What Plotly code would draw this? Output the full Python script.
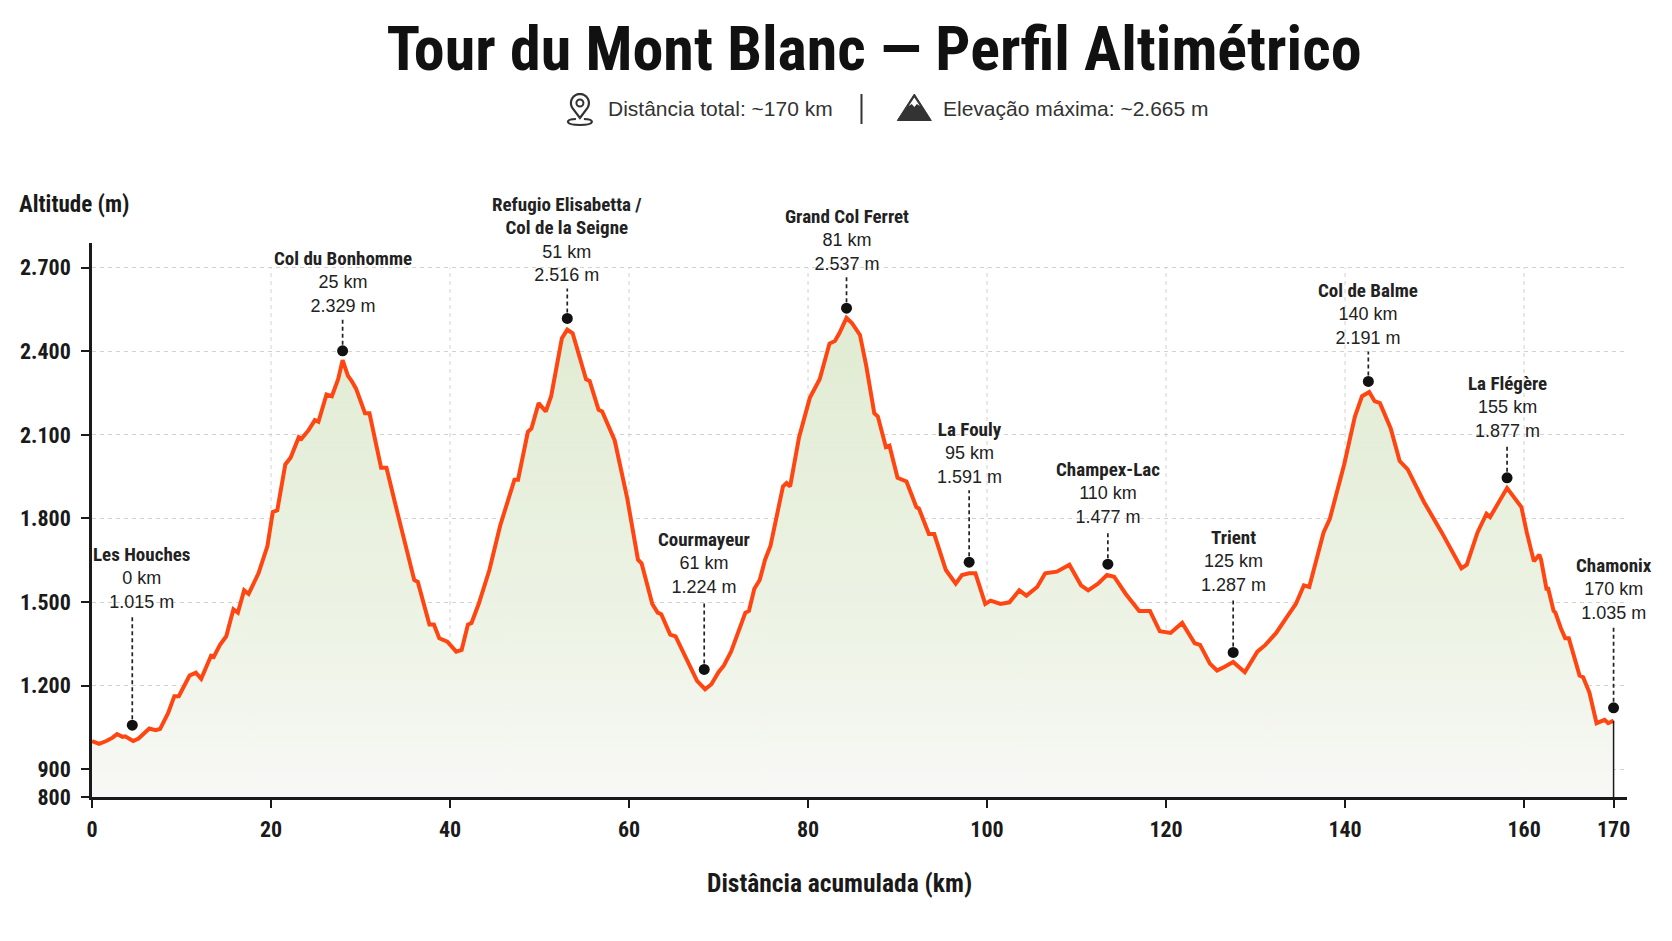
"""
Tour du Mont Blanc - elevation profile.

Elevation line with a soft green gradient fill, labelled stops
(black dots + dashed leader lines) and a header with small icons.
"""

import math

import plotly.graph_objects as go


# Profile (km, m)
DIST_KM = [
    0.0, 0.8, 1.6, 2.3, 2.8, 3.4, 3.7, 4.6, 5.2, 6.4, 7.1, 7.6, 8.5, 9.2, 9.7,
    10.9, 11.6, 12.2, 13.3, 13.6, 14.3, 15.0, 15.8, 16.3, 17.0, 17.5, 18.6, 19.6,
    20.2, 20.7, 21.6, 22.2, 23.1, 23.4, 24.2, 24.9, 25.3, 26.2, 26.8, 27.5, 28.0,
    28.6, 29.0, 29.5, 30.5, 31.0, 32.3, 32.9, 34.2, 36.0, 36.4, 37.7, 38.2, 38.8, 39.7,
    40.7, 41.3, 42.0, 42.4, 43.2, 44.4, 45.6, 47.2, 47.6, 48.7, 49.1, 49.9, 50.7,
    51.3, 52.5, 53.1, 53.7, 55.2, 55.6, 56.6, 57.0, 58.4, 59.8,
    61.0, 61.4, 62.6, 63.2, 63.6, 64.6, 65.2, 66.2, 67.6, 68.5, 69.2, 70.0, 70.6,
    71.4, 72.4, 73.0, 73.4, 74.0, 74.6, 75.2, 75.8, 77.2, 77.6, 78.0, 79.0,
    80.2, 81.3, 82.4, 83.0, 83.5, 84.3, 84.9, 85.8, 86.5, 87.4, 87.8, 88.7, 89.1,
    90.0, 91.0, 92.1, 92.4, 93.5, 94.1, 95.4, 96.5, 97.2, 98.0, 98.7, 99.8,
    100.4, 101.5, 102.5, 103.6, 104.4, 105.6, 106.5, 107.8, 109.2, 110.5, 111.3,
    112.4, 113.4, 114.2, 115.5, 117.0, 118.2, 119.3,
    120.5, 121.8, 123.2, 123.8, 124.9, 125.7, 126.5, 127.5, 128.8, 130.2, 131.1,
    132.3, 133.7, 134.5, 135.4, 136.0, 137.6, 138.3, 139.9,
    141.1, 141.9, 142.7, 143.3, 143.9, 145.1, 146.1, 147.0, 148.8, 150.8, 152.4,
    153.0, 153.6, 154.8, 155.8, 156.2, 158.1, 158.9, 159.7,
    160.3, 161.1, 161.7, 161.9, 162.5, 162.7, 163.3, 163.5, 164.1, 164.6, 165.0,
    165.7, 166.2, 166.6, 167.0, 167.3, 168.1, 168.5, 169.0, 169.4, 169.8, 170.0,
]
ALT_M = [
    1001, 991, 1001, 1013, 1026, 1016, 1018, 1001, 1010, 1046, 1040, 1044, 1101, 1162, 1162,
    1236, 1246, 1224, 1307, 1303, 1346, 1377, 1474, 1462, 1542, 1529, 1603, 1701,
    1823, 1829, 1994, 2019, 2092, 2086, 2117, 2153, 2147, 2245, 2239, 2300, 2368,
    2312, 2294, 2266, 2178, 2178, 1982, 1982, 1811, 1579, 1572, 1419, 1419, 1370, 1358,
    1322, 1328, 1419, 1425, 1493, 1615, 1774, 1939, 1939, 2111, 2123, 2214, 2184,
    2239, 2447, 2478, 2465, 2300, 2294, 2190, 2184, 2080, 1872,
    1652, 1639, 1493, 1462, 1456, 1383, 1377, 1309, 1217, 1187, 1205, 1248, 1272,
    1322, 1407, 1462, 1468, 1548, 1579, 1652, 1701, 1915, 1927, 1915, 2092,
    2233, 2300, 2428, 2437, 2465, 2520, 2502, 2459, 2349, 2178, 2166, 2056, 2061,
    1946, 1933, 1841, 1835, 1744, 1744, 1615, 1566, 1597, 1603, 1603, 1493,
    1505, 1493, 1499, 1542, 1523, 1554, 1603, 1609, 1634, 1560, 1542,
    1566, 1597, 1591, 1529, 1468, 1468, 1395,
    1389, 1425, 1352, 1346, 1279, 1254, 1267, 1285, 1248, 1322, 1346,
    1389, 1456, 1493, 1560, 1554, 1750, 1799, 1994,
    2166, 2239, 2254, 2221, 2214, 2123, 2006, 1976, 1860, 1750, 1652,
    1621, 1634, 1750, 1817, 1805, 1909, 1872, 1841,
    1750, 1646, 1670, 1652, 1548, 1548, 1468, 1462, 1407, 1370, 1370,
    1297, 1236, 1230, 1199, 1175, 1065, 1071, 1077, 1065, 1071, 1074,
]

# Labelled stops: printed text and drawn dot position
STOP_NAMES = [
    "Les Houches", "Col du Bonhomme", "Refugio Elisabetta /<br>Col de la Seigne",
    "Courmayeur", "Grand Col Ferret", "La Fouly", "Champex-Lac", "Trient",
    "Col de Balme", "La Flégère", "Chamonix",
]
STOP_KM_TXT = [0, 25, 51, 61, 81, 95, 110, 125, 140, 155, 170]
STOP_ALT_TXT = [1015, 2329, 2516, 1224, 2537, 1591, 1477, 1287, 2191, 1877, 1035]
STOP_X = [4.5, 28.0, 53.1, 68.4, 84.3, 98.0, 113.5, 127.5, 142.6, 158.1, 170.0]
STOP_Y = [1058, 2402, 2518, 1258, 2555, 1643, 1636, 1319, 2292, 1946, 1120]

X_TICKS = [0, 20, 40, 60, 80, 100, 120, 140, 160, 170]
Y_TICKS = [800, 900, 1200, 1500, 1800, 2100, 2400, 2700]

TITLE = "Tour du Mont Blanc — Perfil Altimétrico"
SUB_DIST = "Distância total: ~170 km"
SUB_ELEV = "Elevação máxima: ~2.665 m"
Y_TITLE = "Altitude (m)"
X_TITLE = "Distância acumulada (km)"

# Styling / layout
NARROW = "'Liberation Sans Narrow', 'Arial Narrow', 'Roboto Condensed', 'Liberation Sans', sans-serif"
REGULAR = "'Liberation Sans', Arial, sans-serif"
LINE_COLOR = "#ff4612"
INK = "#1a1a1a"
GRID = "#d2d2d2"

# page body adds an 8px margin, so the figure is a bit smaller than the window
PAGE_PAD = 8
W, H = 1672 - PAGE_PAD, 941 - PAGE_PAD
MARGIN = dict(l=79, r=45, t=235, b=144)
PLOT_W = W - MARGIN["l"] - MARGIN["r"]
PLOT_H = H - MARGIN["t"] - MARGIN["b"]

# leader line length (px) and horizontal nudge of each stop label
LABEL_GAP = [110, 32, 30, 69, 31, 72, 34, 54, 30, 34, 82]
LABEL_DX = [9, 0, 0, 0, 0, 0, 0, 0, 0, 0, 0]


def paper_x(px):
    """window pixel -> paper x"""
    return (px - PAGE_PAD - MARGIN["l"]) / PLOT_W


def paper_y(py):
    """window pixel -> paper y"""
    return (H - MARGIN["b"] - (py - PAGE_PAD)) / PLOT_H


def fmt_thousands(v):
    return f"{v:,}".replace(",", ".")


fig = go.Figure()

# Elevation profile with vertical gradient fill
fig.add_trace(go.Scatter(
    x=DIST_KM,
    y=ALT_M,
    mode="lines",
    line=dict(color=LINE_COLOR, width=4),
    fill="tozeroy",
    fillgradient=dict(
        type="vertical",
        start=Y_TICKS[0],
        stop=2550,
        colorscale=[[0, "#f8f8f6"], [0.35, "#edf3e5"], [1, "#e0ebd2"]],
    ),
    hoverinfo="skip",
    showlegend=False,
))

# closing edge of the profile at the finish
fig.add_shape(
    type="line", xref="x", yref="y",
    x0=DIST_KM[-1], x1=DIST_KM[-1], y0=Y_TICKS[0], y1=ALT_M[-1],
    line=dict(color=INK, width=1.5),
)

# Vertical grid lines (drawn as shapes so they stop at the top grid row)
for xv in X_TICKS[1:-1]:
    fig.add_shape(
        type="line", xref="x", yref="y", layer="below",
        x0=xv, x1=xv, y0=Y_TICKS[0], y1=Y_TICKS[-1],
        line=dict(color=GRID, width=1, dash="4px,4px"),
    )

# Stop markers
fig.add_trace(go.Scatter(
    x=STOP_X,
    y=STOP_Y,
    mode="markers",
    marker=dict(color="#111111", size=11),
    hoverinfo="skip",
    showlegend=False,
))

# Leader lines + stop labels
name_family = NARROW.replace("'", "")
for i, name in enumerate(STOP_NAMES):
    fig.add_shape(
        type="line", xref="x", yref="y",
        x0=STOP_X[i], x1=STOP_X[i],
        ysizemode="pixel", yanchor=STOP_Y[i], y0=6, y1=LABEL_GAP[i],
        line=dict(color="#222222", width=1.7, dash="4px,3px"),
    )
    name_lines = "<br>".join(
        f"<span style=\"font-family:{name_family};font-size:19px\"><b>{part}</b></span>"
        for part in name.split("<br>")
    )
    fig.add_annotation(
        x=STOP_X[i], y=STOP_Y[i], xref="x", yref="y",
        text=f"{name_lines}<br>{STOP_KM_TXT[i]} km<br>{fmt_thousands(STOP_ALT_TXT[i])} m",
        showarrow=False,
        xanchor="center", yanchor="bottom",
        xshift=LABEL_DX[i], yshift=LABEL_GAP[i] + 1,
        align="center",
        font=dict(family=REGULAR, size=18, color="#222222"),
    )

# Header: subtitle pieces
fig.add_annotation(
    x=paper_x(603), y=paper_y(108), xref="paper", yref="paper",
    text=SUB_DIST, showarrow=False, xanchor="left", yanchor="middle",
    font=dict(family=REGULAR, size=21, color="#333333"),
)
fig.add_annotation(
    x=paper_x(939), y=paper_y(108), xref="paper", yref="paper",
    text=SUB_ELEV, showarrow=False, xanchor="left", yanchor="middle",
    font=dict(family=REGULAR, size=21, color="#333333"),
)

# Header icons (pixel-sized shapes)
pin_ax, icon_ay = paper_x(576.5), paper_y(108)
tip_a = math.degrees(math.asin(9 / 15))
a0, a1 = -90 + (90 - tip_a), 270 - (90 - tip_a)
arc = []
steps = 24
for k in range(steps + 1):
    a = math.radians(a0 + (a1 - a0) * k / steps)
    arc.append(f"{9 * math.cos(a):.2f},{5 + 9 * math.sin(a):.2f}")
pin_path = "M 0,-10 L " + " L ".join(arc) + " Z"
icon_common = dict(xref="paper", yref="paper", xsizemode="pixel", ysizemode="pixel")
fig.add_shape(type="path", path=pin_path, xanchor=pin_ax, yanchor=icon_ay,
              line=dict(color="#333333", width=2.2), **icon_common)
fig.add_shape(type="circle", x0=-3.5, x1=3.5, y0=1.5, y1=8.5,
              xanchor=pin_ax, yanchor=icon_ay,
              line=dict(color="#333333", width=2), **icon_common)
fig.add_shape(type="path",
              path="M -4,-11 Q -12,-11 -12,-14 Q -11,-17 0,-17 Q 11,-17 12,-14 Q 12,-11 4,-11",
              xanchor=pin_ax, yanchor=icon_ay,
              line=dict(color="#333333", width=2.2), **icon_common)

fig.add_shape(type="line", x0=0, x1=0, y0=-16, y1=14,
              xanchor=paper_x(859), yanchor=icon_ay,
              line=dict(color="#333333", width=2), **icon_common)

mtn_ax = paper_x(912)
fig.add_shape(type="path", path="M -17,-12.5 L 0,14 L 17,-12.5 Z",
              xanchor=mtn_ax, yanchor=icon_ay,
              fillcolor="#333333", line=dict(color="#333333", width=1), **icon_common)
fig.add_shape(type="path", path="M 0,10.5 L -5.6,2 L -2.6,4 L 0,1 L 2.6,4 L 5.6,2 Z",
              xanchor=mtn_ax, yanchor=icon_ay,
              fillcolor="#ffffff", line=dict(width=0), **icon_common)

# Axis titles
fig.add_annotation(
    x=paper_x(12), y=paper_y(205), xref="paper", yref="paper",
    text=f"<b>{Y_TITLE}</b>", showarrow=False, xanchor="left", yanchor="middle",
    font=dict(family=NARROW, size=23, color=INK),
)
fig.add_annotation(
    x=paper_x(837), y=paper_y(883), xref="paper", yref="paper",
    text=f"<b>{X_TITLE}</b>", showarrow=False, xanchor="center", yanchor="middle",
    font=dict(family=NARROW, size=25.5, color=INK),
)

fig.update_layout(
    title=dict(
        text=f"<b>{TITLE}</b>",
        font=dict(family=NARROW, size=62, color="#111111"),
        x=(874 - PAGE_PAD) / W, xanchor="center", xref="container",
        y=1 - (48 - PAGE_PAD) / H, yanchor="middle", yref="container",
    ),
    width=W,
    height=H,
    margin=MARGIN,
    paper_bgcolor="#ffffff",
    plot_bgcolor="#ffffff",
    separators=",.",
    showlegend=False,
    xaxis=dict(
        range=[0, 171.5],
        tickvals=X_TICKS,
        showgrid=False,
        zeroline=False,
        showline=True,
        linecolor=INK,
        linewidth=2.5,
        ticks="outside",
        ticklen=8,
        tickwidth=2,
        tickcolor=INK,
        ticklabelstandoff=3,
        tickfont=dict(family=NARROW, size=22, color=INK, weight="bold"),
    ),
    yaxis=dict(
        range=[Y_TICKS[0], 2789],
        tickvals=Y_TICKS,
        tickformat=",d",
        showgrid=True,
        gridcolor=GRID,
        gridwidth=1,
        griddash="4px,4px",
        zeroline=False,
        showline=True,
        linecolor=INK,
        linewidth=2.5,
        ticks="outside",
        ticklen=8,
        tickwidth=2,
        tickcolor=INK,
        ticklabelstandoff=6,
        tickfont=dict(family=NARROW, size=22, color=INK, weight="bold"),
    ),
)

fig.write_html("out.html")
